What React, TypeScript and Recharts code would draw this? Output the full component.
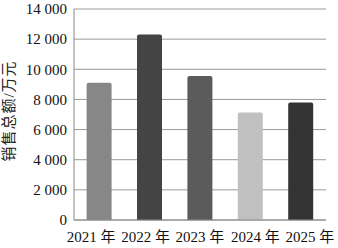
import { BarChart, Bar, XAxis, YAxis, CartesianGrid, Cell } from 'recharts';

const years = ['2021 年', '2022 年', '2023 年', '2024 年', '2025 年'];
const sales = [9100, 12300, 9550, 7130, 7800];
const barColors = ['#878787', '#444444', '#5b5b5b', '#c0c0c0', '#343434'];
const yTicks = [0, 2000, 4000, 6000, 8000, 10000, 12000, 14000];
const boundaryTicks = [1, 2, 3, 4];

const FONT = "'Liberation Serif', 'Noto Sans CJK SC', serif";
// 参考图中年份标签的水平偏移
const LABEL_SHIFT = [-8, -4, 0, 5, 9];

const data = years.map((year, i) => ({ year, sales: sales[i] }));

function fmt(v: number) {
  return v.toString().replace(/\B(?=(\d{3})+(?!\d))/g, ' ');
}

function YearTick(props: any) {
  const { x, y, payload, index } = props;
  return (
    <text
      x={x + (LABEL_SHIFT[index] ?? 0)}
      y={y + 22}
      textAnchor="middle"
      fontSize={15}
      fontFamily={FONT}
      fill="#111"
    >
      {payload.value}
    </text>
  );
}

function YLabel() {
  return (
    <text
      transform="translate(14,111) rotate(-90)"
      textAnchor="middle"
      fontSize={15}
      letterSpacing={1}
      fontFamily={FONT}
      fill="#222"
    >
      销售总额/万元
    </text>
  );
}

export default function App() {
  return (
    <div style={{ position: 'absolute', left: 0, top: 0, background: '#fff' }}>
      <BarChart
        width={338}
        height={248}
        data={data}
        margin={{ top: 9, right: 12, bottom: 0, left: 0 }}
        barCategoryGap="25%"
        style={{ fontFamily: FONT }}
      >
        <CartesianGrid vertical={false} stroke="#9a9a9a" yAxisId="l" xAxisId="cat" />
        <XAxis
          xAxisId="top"
          orientation="top"
          type="number"
          domain={[0, 5]}
          height={0}
          tick={false}
          tickLine={false}
          axisLine={{ stroke: '#888' }}
        />
        <XAxis
          xAxisId="edge"
          type="number"
          domain={[0, 5]}
          ticks={boundaryTicks}
          height={0}
          mirror
          axisLine={false}
          tick={false}
          tickSize={3}
          tickLine={{ stroke: '#888' }}
        />
        <XAxis
          xAxisId="cat"
          dataKey="year"
          height={28}
          interval={0}
          axisLine={{ stroke: '#888' }}
          tickLine={false}
          tickSize={0}
          tickMargin={0}
          tick={<YearTick />}
        />
        <YAxis
          yAxisId="l"
          width={74}
          domain={[0, 14000]}
          ticks={yTicks}
          tickFormatter={fmt}
          tickLine={false}
          tickSize={5}
          tickMargin={2}
          axisLine={{ stroke: '#888' }}
          tick={{ fontSize: 15, fill: '#111', fontFamily: FONT }}
          label={{ content: () => <YLabel /> }}
        />
        <YAxis
          yAxisId="r"
          orientation="right"
          width={0}
          domain={[0, 14000]}
          tick={false}
          tickLine={false}
          axisLine={{ stroke: '#888' }}
        />
        <Bar dataKey="sales" xAxisId="cat" yAxisId="l" radius={[2, 2, 0, 0]} isAnimationActive={false}>
          {data.map((d, i) => (
            <Cell key={d.year} fill={barColors[i]} />
          ))}
        </Bar>
      </BarChart>
    </div>
  );
}
